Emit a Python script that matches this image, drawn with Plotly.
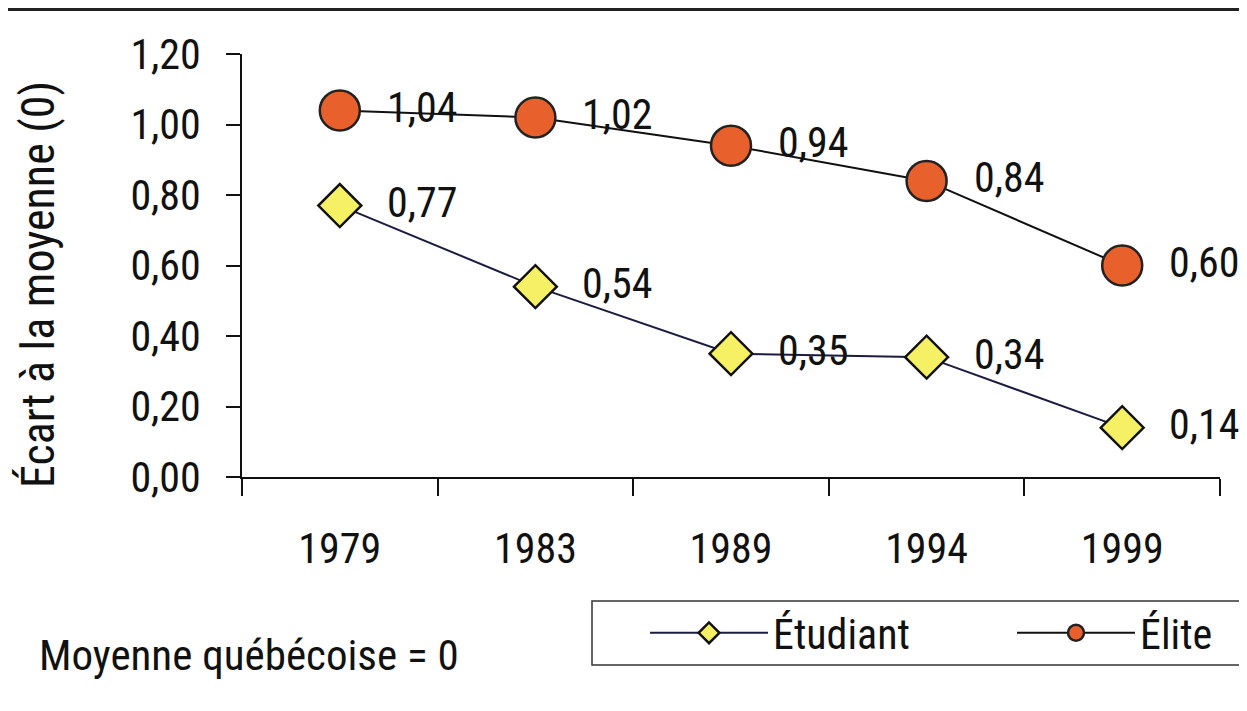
import plotly.graph_objects as go

years = ["1979", "1983", "1989", "1994", "1999"]
etudiant = [0.77, 0.54, 0.35, 0.34, 0.14]
elite = [1.04, 1.02, 0.94, 0.84, 0.60]
y_ticks = [0.0, 0.2, 0.4, 0.6, 0.8, 1.0, 1.2]

FONT = "Liberation Sans Narrow, Arial Narrow, Roboto Condensed, sans-serif"

OFF = 8  # page body margin
W, H = 1247, 711
L, R, T, B = 242 - OFF, 27 + OFF, 54 - OFF, 234 + OFF
pw = W - L - R
ph = H - T - B

def px_x(px):
    return (px - OFF - L) / pw

def px_y(py):
    return (H - B - (py - OFF)) / ph

def fmt(v):
    return f"{v:.2f}".replace(".", ",")

fig = go.Figure()
fig.add_trace(go.Scatter(
    x=years, y=etudiant, name="Étudiant", mode="lines+markers",
    line=dict(color="#1c1c40", width=2),
    marker=dict(symbol="diamond", size=33, color="#f6f064",
                line=dict(color="#111111", width=2.5)),
))
fig.add_trace(go.Scatter(
    x=years, y=elite, name="Élite", mode="lines+markers",
    line=dict(color="#111111", width=2),
    marker=dict(symbol="circle", size=40, color="#e8602c",
                line=dict(color="#222222", width=2.5)),
))

annotations = []
for series in (etudiant, elite):
    for i, v in enumerate(series):
        annotations.append(dict(
            x=i, y=v, xref="x", yref="y", text=fmt(v), showarrow=False,
            xanchor="left", yanchor="middle", xshift=45, yshift=3,
            font=dict(family=FONT, size=42, color="#111111"),
        ))

annotations.append(dict(
    x=px_x(38), y=px_y(285), xref="paper", yref="paper",
    text="Écart à la moyenne (0)", textangle=-90, showarrow=False,
    xanchor="center", yanchor="middle",
    font=dict(family=FONT, size=46, color="#111111"),
))
annotations.append(dict(
    x=px_x(37), y=px_y(655), xref="paper", yref="paper",
    text="Moyenne québécoise = 0", showarrow=False,
    xanchor="left", yanchor="middle",
    font=dict(family=FONT, size=43, color="#111111"),
))

fig.update_layout(
    width=W, height=H,
    margin=dict(l=L, r=R, t=T, b=B, autoexpand=False),
    paper_bgcolor="white", plot_bgcolor="white",
    separators=",.",
    font=dict(family=FONT, size=42, color="#111111"),
    annotations=annotations,
    showlegend=True,
    legend=dict(
        orientation="h", x=px_x(645), y=px_y(599),
        xanchor="left", yanchor="top",
        borderwidth=0, bgcolor="rgba(0,0,0,0)",
        font=dict(family=FONT, size=42, color="#111111"),
        itemwidth=118, entrywidth=234, entrywidthmode="pixels",
    ),
    shapes=[
        dict(type="line", xref="paper", yref="paper",
             x0=px_x(0), x1=px_x(W + 20), y0=px_y(9.5), y1=px_y(9.5),
             line=dict(color="#222222", width=3)),
        dict(type="rect", xref="paper", yref="paper",
             x0=px_x(592), x1=px_x(W + 20), y0=px_y(601), y1=px_y(665),
             line=dict(color="#333333", width=1.5)),
    ],
)

fig.update_xaxes(
    type="category", range=[-0.5, 4.5],
    showline=True, linecolor="#111111", linewidth=2,
    ticks="outside", tickson="boundaries", ticklen=17, tickwidth=1.5,
    tickcolor="#111111", ticklabelstandoff=34,
    showgrid=False, zeroline=False,
    tickfont=dict(family=FONT, size=42, color="#111111"),
)
fig.update_yaxes(
    range=[0, 1.2], tickvals=y_ticks, tickformat=".2f",
    showline=True, linecolor="#111111", linewidth=1.5,
    ticks="outside", ticklen=14, tickwidth=1.5, tickcolor="#111111",
    ticklabelstandoff=17,
    showgrid=False, zeroline=False,
    tickfont=dict(family=FONT, size=42, color="#111111"),
)

fig.write_html("out.html")
